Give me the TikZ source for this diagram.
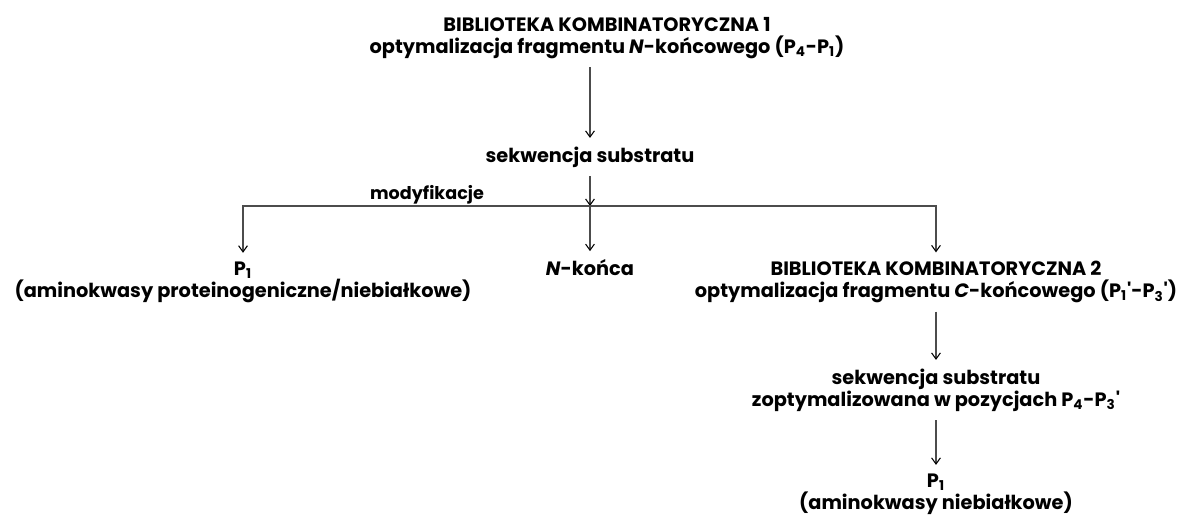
\documentclass[tikz,border=0pt]{standalone}
\usepackage{fontspec}
\setmainfont{Poppins}
\usepackage{tikz}
\usetikzlibrary{positioning,arrows.meta,calc}
\tikzset{
	label/.style={align=center, font=\fontsize{11}{12.5}\selectfont\bfseries, inner sep=5pt, outer sep=0},
	small/.style={font=\fontsize{10}{12}\selectfont\bfseries, inner sep=1pt},
	link/.style={draw=black!70, line width=0.6pt, -{Straight Barb[length=3.5pt,width=5pt,black]}},
	bar/.style={draw=black!70, line width=0.6pt}
}
\newcommand{\Ps}[1]{P\textsubscript{#1}}
\newcommand{\pr}{\textquotesingle}

\begin{document}
\begin{tikzpicture}[x=0.02cm, y=-0.02cm]
	\useasboundingbox (0,0) rectangle (1184,518);
	
	\node [label] (lib1) at (607,38) {BIBLIOTEKA KOMBINATORYCZNA 1\\optymalizacja fragmentu \textit{N}-końcowego (\Ps{4}-\Ps{1})};
	\node [label] (seq1) at (590,157) {sekwencja substratu};
	\coordinate (split) at (590,206);
	\node [label] (p1l) at (243,282) {\Ps{1}\\(aminokwasy proteinogeniczne/niebiałkowe)};
	\node [label] (nend) at (590,268) {\textit{N}-końca};
	\node [label] (lib2) at (936,282) {BIBLIOTEKA KOMBINATORYCZNA 2\\optymalizacja fragmentu \textit{C}-końcowego (\Ps{1}\pr-\Ps{3}\pr)};
	\node [label] (seq2) at (936,390) {sekwencja substratu\\zoptymalizowana w pozycjach \Ps{4}-\Ps{3}\pr};
	\node [label] (p1r) at (936,494) {\Ps{1}\\(aminokwasy niebiałkowe)};
	\node [small] (mod) at (427,195) {modyfikacje};
	
	\draw [link] (seq1 |- lib1.south) -- (seq1);
	\draw [link] (seq1) -- (split);
	\draw [link] (split) -- (nend);
	\draw [link] (split) -| (p1l);
	\draw [link] (split) -| (lib2);
	\draw [link] (lib2) -- (seq2);
	\draw [link] (seq2) -- (p1r);
\end{tikzpicture}
\end{document}
